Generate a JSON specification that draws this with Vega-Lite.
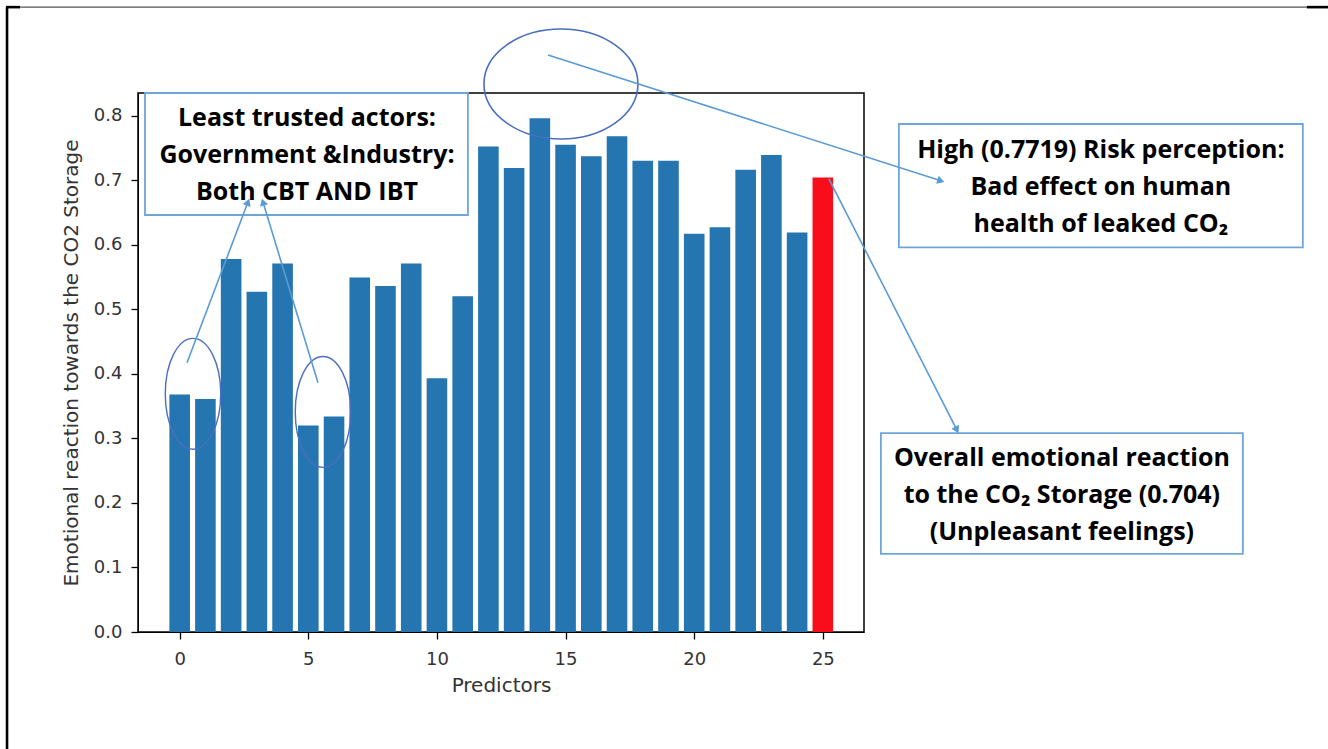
{
  "$schema": "https://vega.github.io/schema/vega-lite/v6.json",
  "width": 726,
  "height": 539,
  "autosize": {"type": "none"},
  "padding": {"left": 138, "top": 93, "right": 464, "bottom": 117},
  "background": "white",
  "config": {
    "view": {"stroke": "#000000", "strokeWidth": 1.5},
    "axis": {
      "domainColor": "#000000",
      "tickColor": "#000000",
      "tickSize": 7,
      "tickWidth": 1.3,
      "labelColor": "#333333",
      "titleColor": "#333333",
      "labelFont": "DejaVu Sans",
      "titleFont": "DejaVu Sans",
      "labelFontSize": 18,
      "titleFontSize": 20,
      "titleFontWeight": "normal",
      "grid": false
    }
  },
  "datasets": {
    "bars": [
      {"predictor": 0, "value": 0.368},
      {"predictor": 1, "value": 0.361},
      {"predictor": 2, "value": 0.578},
      {"predictor": 3, "value": 0.527},
      {"predictor": 4, "value": 0.571},
      {"predictor": 5, "value": 0.320},
      {"predictor": 6, "value": 0.334},
      {"predictor": 7, "value": 0.549},
      {"predictor": 8, "value": 0.536},
      {"predictor": 9, "value": 0.571},
      {"predictor": 10, "value": 0.393},
      {"predictor": 11, "value": 0.520},
      {"predictor": 12, "value": 0.752},
      {"predictor": 13, "value": 0.719},
      {"predictor": 14, "value": 0.796},
      {"predictor": 15, "value": 0.755},
      {"predictor": 16, "value": 0.737},
      {"predictor": 17, "value": 0.768},
      {"predictor": 18, "value": 0.730},
      {"predictor": 19, "value": 0.730},
      {"predictor": 20, "value": 0.617},
      {"predictor": 21, "value": 0.627},
      {"predictor": 22, "value": 0.716},
      {"predictor": 23, "value": 0.739},
      {"predictor": 24, "value": 0.619},
      {"predictor": 25, "value": 0.704}
    ],
    "arrows": [
      {"id": "A", "x": 14.315, "y": 0.894, "x2": 29.589, "y2": 0.699},
      {"id": "B", "x": 25.236, "y": 0.702, "x2": 30.210, "y2": 0.313},
      {"id": "C", "x": 0.284, "y": 0.417, "x2": 2.655, "y2": 0.666},
      {"id": "D", "x": 5.376, "y": 0.386, "x2": 3.238, "y2": 0.666}
    ],
    "ellipses": [
      {"id": "top", "x": 14.820, "y": 0.849},
      {"id": "e1", "x": 0.518, "y": 0.369},
      {"id": "e2", "x": 5.570, "y": 0.341}
    ],
    "boxes": [
      {"id": "b1", "x": -1.348, "x2": 11.205, "y": 0.835, "y2": 0.646},
      {"id": "b2", "x": 27.956, "x2": 43.658, "y": 0.787, "y2": 0.596},
      {"id": "b3", "x": 27.257, "x2": 41.326, "y": 0.308, "y2": 0.121}
    ],
    "texts": [
      {"x": 4.948, "y": 0.796, "label": "Least trusted actors:\nGovernment &Industry:\nBoth CBT AND IBT"},
      {"x": 35.807, "y": 0.7467, "label": "High (0.7719) Risk perception:\nBad effect on human\nhealth of leaked CO₂"},
      {"x": 34.291, "y": 0.2696, "label": "Overall emotional reaction\nto the CO₂ Storage (0.704)\n(Unpleasant feelings)"}
    ],
    "frameGray": [
      {"id": "top", "x": -6.206, "x2": 43.813, "y": 0.968, "y2": 0.968}
    ],
    "frameBlack": [
      {"id": "left", "x": -6.711, "x2": -6.711, "y": 0.968, "y2": -0.19},
      {"id": "topL", "x": -6.75, "x2": -6.206, "y": 0.968, "y2": 0.968},
      {"id": "topR", "x": 43.813, "x2": 44.7, "y": 0.968, "y2": 0.968}
    ]
  },
  "layer": [
    {
      "data": {"name": "bars"},
      "mark": {"type": "bar", "width": 20.6},
      "encoding": {
        "x": {
          "field": "predictor", "type": "quantitative",
          "scale": {"domain": [-1.62, 26.6], "nice": false, "zero": false, "padding": 0},
          "axis": {"values": [0, 5, 10, 15, 20, 25], "title": "Predictors", "labelPadding": 11, "titlePadding": 7},
          "title": "Predictors"
        },
        "y": {
          "field": "value", "type": "quantitative",
          "scale": {"domain": [0, 0.835], "nice": false, "padding": 0},
          "axis": {"values": [0, 0.1, 0.2, 0.3, 0.4, 0.5, 0.6, 0.7, 0.8], "format": ".1f", "title": "Emotional reaction towards the CO2 Storage", "labelPadding": 9, "titlePadding": 12},
          "title": "Emotional reaction towards the CO2 Storage"
        },
        "color": {
          "condition": {"test": "datum.predictor === 25", "value": "#FA0D1B"},
          "value": "#2575B0"
        }
      }
    },
    {
      "data": {"name": "frameGray"},
      "mark": {"type": "rule", "color": "#555555", "strokeWidth": 1.2},
      "encoding": {
        "x": {"field": "x", "type": "quantitative", "axis": {"values": [0, 5, 10, 15, 20, 25], "title": "Predictors", "labelPadding": 11, "titlePadding": 7}, "title": "Predictors"},
        "x2": {"field": "x2"},
        "y": {"field": "y", "type": "quantitative", "axis": {"values": [0, 0.1, 0.2, 0.3, 0.4, 0.5, 0.6, 0.7, 0.8], "format": ".1f", "title": "Emotional reaction towards the CO2 Storage", "labelPadding": 9, "titlePadding": 12}, "title": "Emotional reaction towards the CO2 Storage"},
        "y2": {"field": "y2"}
      }
    },
    {
      "data": {"name": "frameBlack"},
      "mark": {"type": "rule", "color": "#000000", "strokeWidth": 2.6},
      "encoding": {
        "x": {"field": "x", "type": "quantitative", "axis": {"values": [0, 5, 10, 15, 20, 25], "title": "Predictors", "labelPadding": 11, "titlePadding": 7}, "title": "Predictors"},
        "x2": {"field": "x2"},
        "y": {"field": "y", "type": "quantitative", "axis": {"values": [0, 0.1, 0.2, 0.3, 0.4, 0.5, 0.6, 0.7, 0.8], "format": ".1f", "title": "Emotional reaction towards the CO2 Storage", "labelPadding": 9, "titlePadding": 12}, "title": "Emotional reaction towards the CO2 Storage"},
        "y2": {"field": "y2"}
      }
    },
    {
      "data": {"name": "ellipses"},
      "transform": [{"filter": "datum.id === 'top'"}],
      "mark": {"type": "point", "filled": false, "stroke": "#4A6FC0", "strokeWidth": 1.6, "opacity": 1,
               "shape": "M -1 0 A 1 0.714 0 1 1 1 0 A 1 0.714 0 1 1 -1 0", "size": 23716},
      "encoding": {
        "x": {"field": "x", "type": "quantitative", "axis": {"values": [0, 5, 10, 15, 20, 25], "title": "Predictors", "labelPadding": 11, "titlePadding": 7}, "title": "Predictors"},
        "y": {"field": "y", "type": "quantitative", "axis": {"values": [0, 0.1, 0.2, 0.3, 0.4, 0.5, 0.6, 0.7, 0.8], "format": ".1f", "title": "Emotional reaction towards the CO2 Storage", "labelPadding": 9, "titlePadding": 12}, "title": "Emotional reaction towards the CO2 Storage"}
      }
    },
    {
      "data": {"name": "ellipses"},
      "transform": [{"filter": "datum.id !== 'top'"}],
      "mark": {"type": "point", "filled": false, "stroke": "#4A6FC0", "strokeWidth": 1.4, "opacity": 1,
               "shape": "M -0.5 0 A 0.5 1 0 1 1 0.5 0 A 0.5 1 0 1 1 -0.5 0", "size": 12300},
      "encoding": {
        "x": {"field": "x", "type": "quantitative", "axis": {"values": [0, 5, 10, 15, 20, 25], "title": "Predictors", "labelPadding": 11, "titlePadding": 7}, "title": "Predictors"},
        "y": {"field": "y", "type": "quantitative", "axis": {"values": [0, 0.1, 0.2, 0.3, 0.4, 0.5, 0.6, 0.7, 0.8], "format": ".1f", "title": "Emotional reaction towards the CO2 Storage", "labelPadding": 9, "titlePadding": 12}, "title": "Emotional reaction towards the CO2 Storage"}
      }
    },
    {
      "data": {"name": "boxes"},
      "mark": {"type": "rect", "fill": "white", "stroke": "#6FA6DA", "strokeWidth": 1.8},
      "encoding": {
        "x": {"field": "x", "type": "quantitative", "axis": {"values": [0, 5, 10, 15, 20, 25], "title": "Predictors", "labelPadding": 11, "titlePadding": 7}, "title": "Predictors"},
        "x2": {"field": "x2"},
        "y": {"field": "y", "type": "quantitative", "axis": {"values": [0, 0.1, 0.2, 0.3, 0.4, 0.5, 0.6, 0.7, 0.8], "format": ".1f", "title": "Emotional reaction towards the CO2 Storage", "labelPadding": 9, "titlePadding": 12}, "title": "Emotional reaction towards the CO2 Storage"},
        "y2": {"field": "y2"}
      }
    },
    {
      "data": {"name": "arrows"},
      "mark": {"type": "rule", "color": "#5B9BD5", "strokeWidth": 1.6},
      "encoding": {
        "x": {"field": "x", "type": "quantitative", "axis": {"values": [0, 5, 10, 15, 20, 25], "title": "Predictors", "labelPadding": 11, "titlePadding": 7}, "title": "Predictors"},
        "x2": {"field": "x2"},
        "y": {"field": "y", "type": "quantitative", "axis": {"values": [0, 0.1, 0.2, 0.3, 0.4, 0.5, 0.6, 0.7, 0.8], "format": ".1f", "title": "Emotional reaction towards the CO2 Storage", "labelPadding": 9, "titlePadding": 12}, "title": "Emotional reaction towards the CO2 Storage"},
        "y2": {"field": "y2"}
      }
    },
    {
      "data": {"name": "arrows"},
      "transform": [{"filter": "datum.id === 'A'"}],
      "mark": {"type": "point", "shape": "triangle-up", "filled": true, "color": "#5B9BD5", "opacity": 1, "size": 70, "angle": 108},
      "encoding": {
        "x": {"field": "x2", "type": "quantitative", "axis": {"values": [0, 5, 10, 15, 20, 25], "title": "Predictors", "labelPadding": 11, "titlePadding": 7}, "title": "Predictors"},
        "y": {"field": "y2", "type": "quantitative", "axis": {"values": [0, 0.1, 0.2, 0.3, 0.4, 0.5, 0.6, 0.7, 0.8], "format": ".1f", "title": "Emotional reaction towards the CO2 Storage", "labelPadding": 9, "titlePadding": 12}, "title": "Emotional reaction towards the CO2 Storage"}
      }
    },
    {
      "data": {"name": "arrows"},
      "transform": [{"filter": "datum.id === 'B'"}],
      "mark": {"type": "point", "shape": "triangle-up", "filled": true, "color": "#5B9BD5", "opacity": 1, "size": 70, "angle": 153},
      "encoding": {
        "x": {"field": "x2", "type": "quantitative", "axis": {"values": [0, 5, 10, 15, 20, 25], "title": "Predictors", "labelPadding": 11, "titlePadding": 7}, "title": "Predictors"},
        "y": {"field": "y2", "type": "quantitative", "axis": {"values": [0, 0.1, 0.2, 0.3, 0.4, 0.5, 0.6, 0.7, 0.8], "format": ".1f", "title": "Emotional reaction towards the CO2 Storage", "labelPadding": 9, "titlePadding": 12}, "title": "Emotional reaction towards the CO2 Storage"}
      }
    },
    {
      "data": {"name": "arrows"},
      "transform": [{"filter": "datum.id === 'C'"}],
      "mark": {"type": "point", "shape": "triangle-up", "filled": true, "color": "#5B9BD5", "opacity": 1, "size": 70, "angle": 21},
      "encoding": {
        "x": {"field": "x2", "type": "quantitative", "axis": {"values": [0, 5, 10, 15, 20, 25], "title": "Predictors", "labelPadding": 11, "titlePadding": 7}, "title": "Predictors"},
        "y": {"field": "y2", "type": "quantitative", "axis": {"values": [0, 0.1, 0.2, 0.3, 0.4, 0.5, 0.6, 0.7, 0.8], "format": ".1f", "title": "Emotional reaction towards the CO2 Storage", "labelPadding": 9, "titlePadding": 12}, "title": "Emotional reaction towards the CO2 Storage"}
      }
    },
    {
      "data": {"name": "arrows"},
      "transform": [{"filter": "datum.id === 'D'"}],
      "mark": {"type": "point", "shape": "triangle-up", "filled": true, "color": "#5B9BD5", "opacity": 1, "size": 70, "angle": -17},
      "encoding": {
        "x": {"field": "x2", "type": "quantitative", "axis": {"values": [0, 5, 10, 15, 20, 25], "title": "Predictors", "labelPadding": 11, "titlePadding": 7}, "title": "Predictors"},
        "y": {"field": "y2", "type": "quantitative", "axis": {"values": [0, 0.1, 0.2, 0.3, 0.4, 0.5, 0.6, 0.7, 0.8], "format": ".1f", "title": "Emotional reaction towards the CO2 Storage", "labelPadding": 9, "titlePadding": 12}, "title": "Emotional reaction towards the CO2 Storage"}
      }
    },
    {
      "data": {"name": "texts"},
      "mark": {"type": "text", "font": "Open Sans", "fontWeight": "bold", "fontSize": 25, "color": "#000000",
               "align": "center", "baseline": "middle", "lineBreak": "\n", "lineHeight": 37},
      "encoding": {
        "x": {"field": "x", "type": "quantitative", "axis": {"values": [0, 5, 10, 15, 20, 25], "title": "Predictors", "labelPadding": 11, "titlePadding": 7}, "title": "Predictors"},
        "y": {"field": "y", "type": "quantitative", "axis": {"values": [0, 0.1, 0.2, 0.3, 0.4, 0.5, 0.6, 0.7, 0.8], "format": ".1f", "title": "Emotional reaction towards the CO2 Storage", "labelPadding": 9, "titlePadding": 12}, "title": "Emotional reaction towards the CO2 Storage"},
        "text": {"field": "label"}
      }
    }
  ]
}
